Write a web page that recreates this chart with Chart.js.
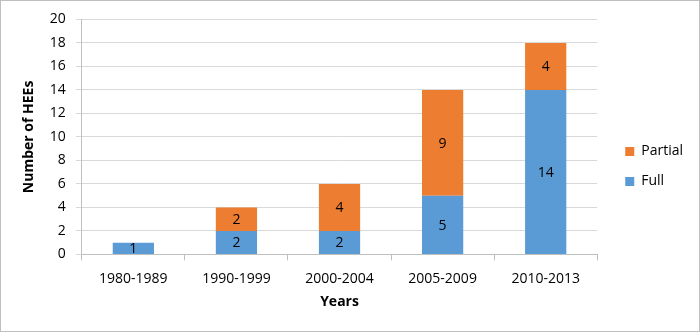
<!DOCTYPE html>
<html>
<head>
<meta charset="utf-8">
<script src="https://cdn.jsdelivr.net/npm/chart.js@4"></script>
<style>
  html, body { margin: 0; padding: 0; background: #fff; }
  .box { position: relative; width: 698px; height: 330px; border: 1px solid #bfbfbf; }
</style>
</head>
<body>
<div class="box"><canvas id="bar-chart"></canvas></div>
<script>
const categories = ["1980-1989", "1990-1999", "2000-2004", "2005-2009", "2010-2013"];
const fullValues = [1, 2, 2, 5, 14];
const partialValues = [0, 2, 4, 9, 4];
const yTicks = { min: 0, max: 20, step: 2 };

const FONT = "'Open Sans', 'Liberation Sans', sans-serif";

// values written in the middle of each segment (zero segments skipped)
const barLabels = {
  id: "barLabels",
  afterDatasetsDraw(chart) {
    const ctx = chart.ctx;
    ctx.save();
    ctx.font = "14px " + FONT;
    ctx.fillStyle = "#000";
    ctx.textAlign = "center";
    ctx.textBaseline = "middle";
    chart.data.datasets.forEach((ds, i) => {
      chart.getDatasetMeta(i).data.forEach((bar, j) => {
        const v = ds.data[j];
        if (!v) return;
        ctx.fillText(String(v), bar.x, (bar.y + bar.base) / 2 + 1);
      });
    });
    ctx.restore();
  }
};

// nudge the legend a bit to the right, like the original
const legendShift = {
  id: "legendShift",
  afterLayout(chart) {
    chart.legend.left += 12;
    chart.legend.right += 12;
  }
};

let config = {
  type: "bar",
  data: {
    labels: categories,
    datasets: [
      {
        label: "Full",
        data: fullValues,
        backgroundColor: "#5b9bd5",
        barPercentage: 0.8,
        categoryPercentage: 0.5,
      },
      {
        label: "Partial",
        data: partialValues,
        backgroundColor: "#ed7d31",
        barPercentage: 0.8,
        categoryPercentage: 0.5,
      },
    ],
  },
  options: {
    responsive: true,
    maintainAspectRatio: false,
    animation: false,
    layout: { padding: { left: 16, right: 18, top: 18, bottom: 17 } },
    plugins: {
      legend: {
        position: "right",
        reverse: true,
        labels: {
          color: "#000",
          font: { family: FONT, size: 14 },
          boxWidth: 9,
          boxHeight: 9,
          padding: 16,
        },
      },
      tooltip: { enabled: false },
    },
    scales: {
      x: {
        stacked: true,
        grid: {
          offset: true,
          drawOnChartArea: false,
          color: "#bfbfbf",
          tickLength: 6,
        },
        border: { color: "#bfbfbf" },
        ticks: { color: "#000", font: { family: FONT, size: 14 }, padding: 10 },
        title: {
          display: true,
          text: "Years",
          color: "#000",
          font: { family: FONT, size: 14, weight: "bold" },
          padding: { top: -4 },
        },
      },
      y: {
        stacked: true,
        min: yTicks.min,
        max: yTicks.max,
        ticks: {
          stepSize: yTicks.step,
          color: "#000",
          font: { family: FONT, size: 14 },
          padding: 10,
        },
        grid: { color: "#d9d9d9", tickLength: 6 },
        border: { color: "#bfbfbf" },
        title: {
          display: true,
          text: "Number of HEEs",
          color: "#000",
          font: { family: FONT, size: 14, weight: "bold" },
          padding: { bottom: 2 },
        },
      },
    },
  },
  plugins: [barLabels, legendShift],
};

let ctx = document.getElementById("bar-chart").getContext("2d");
window.barChartInstance = new Chart(ctx, config);
</script>
</body>
</html>
